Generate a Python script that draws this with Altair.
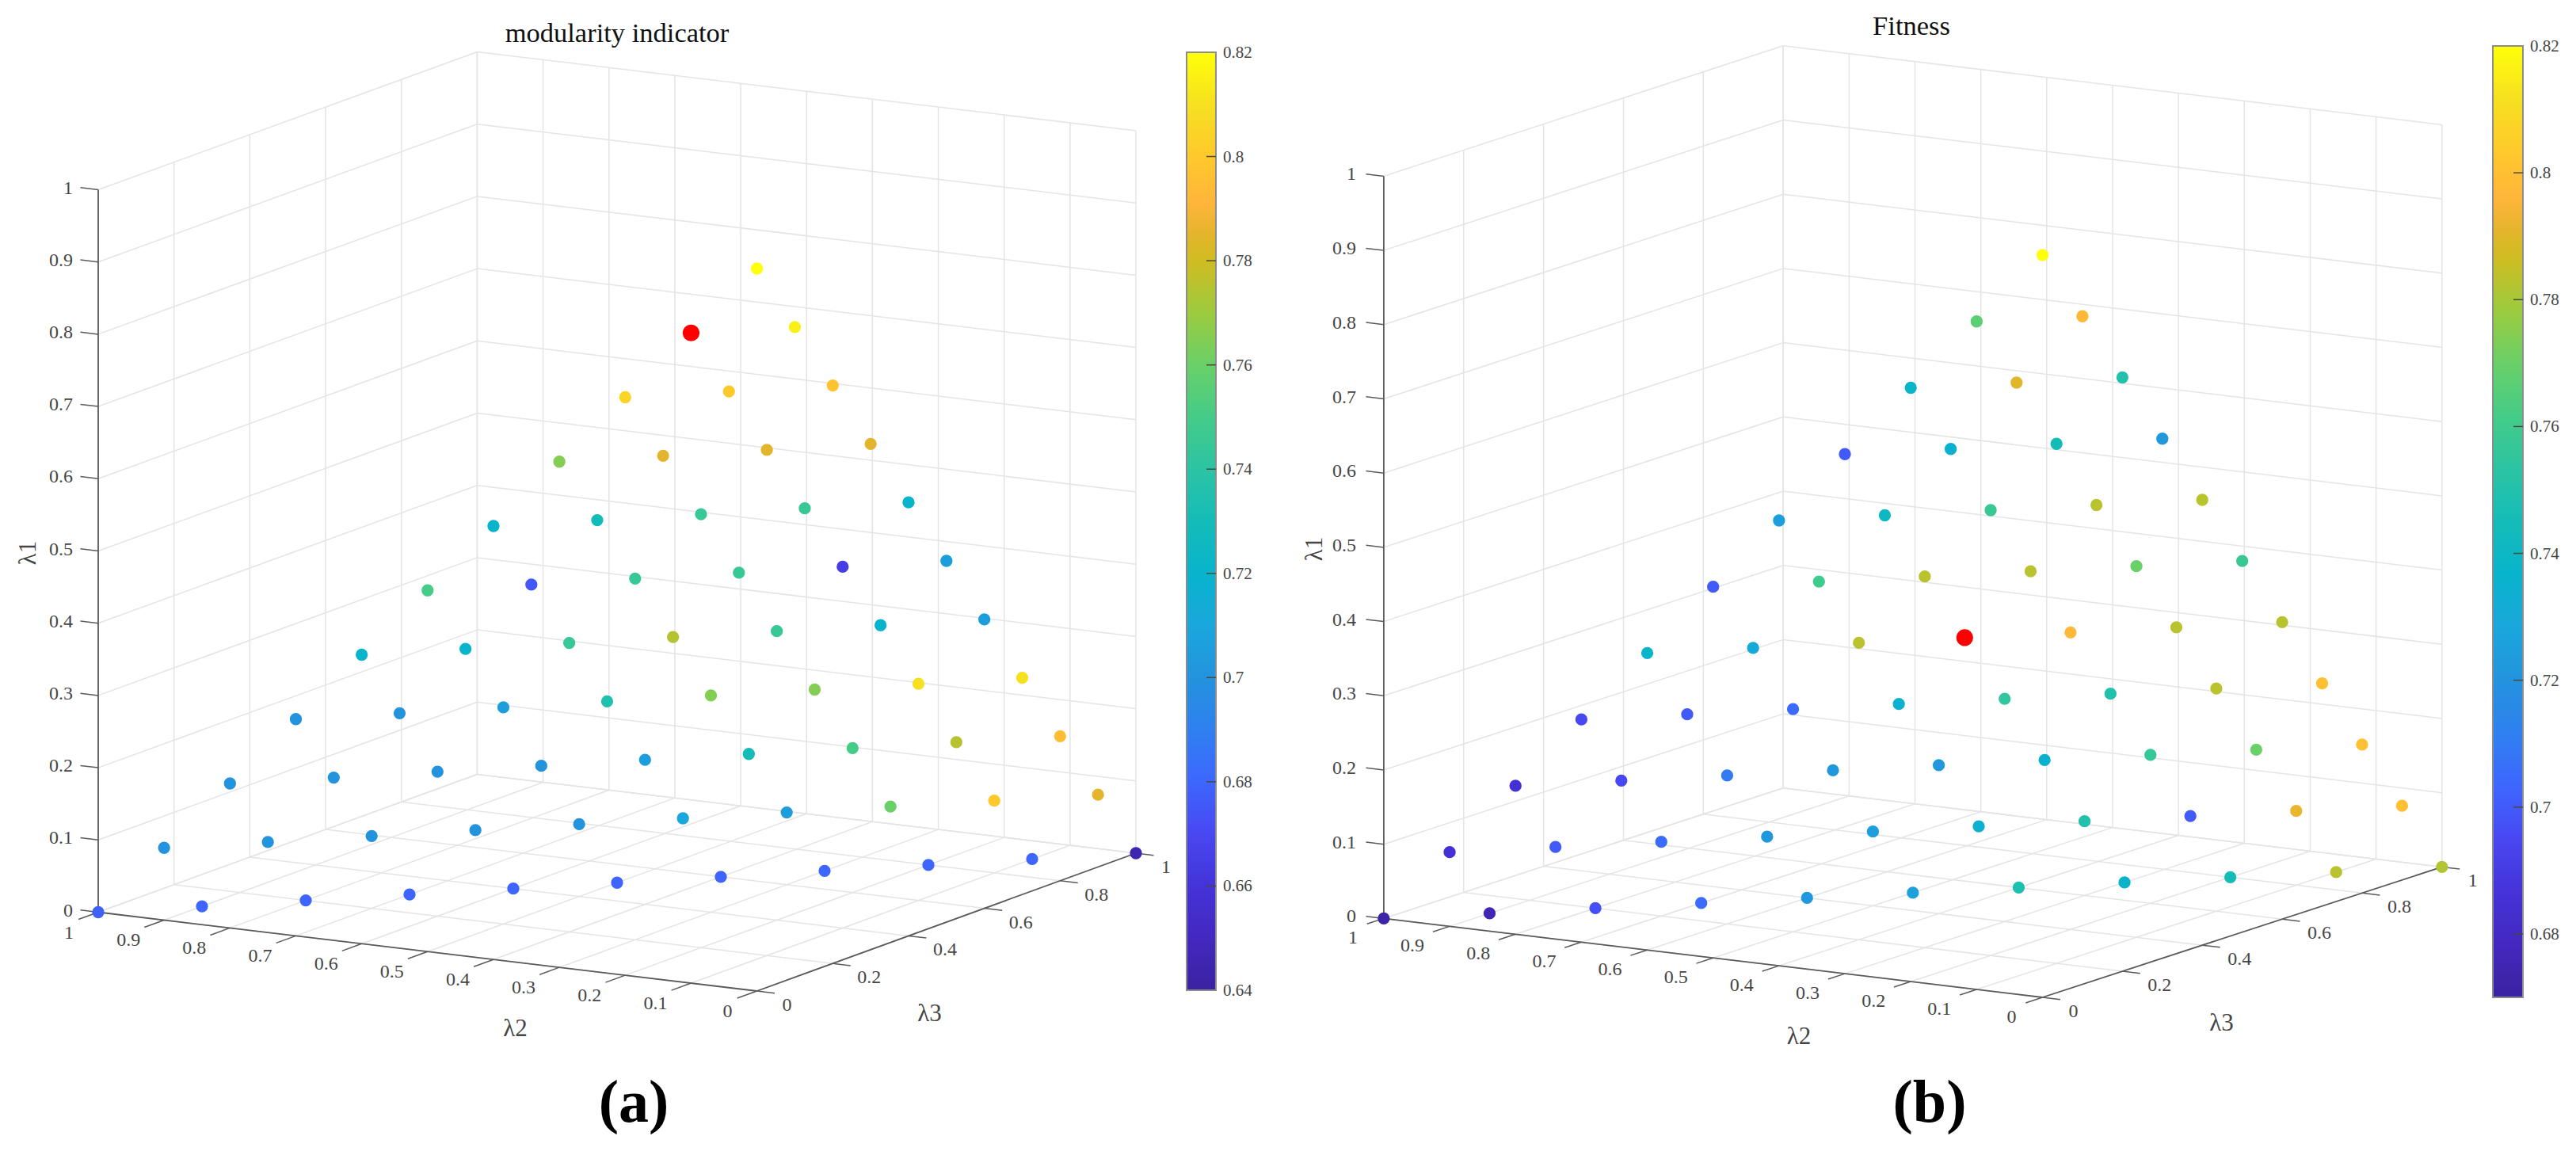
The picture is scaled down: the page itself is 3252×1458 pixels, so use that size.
import altair as alt
import pandas as pd

# Values, one row per lambda1 level (k = 0..10); inside a row lambda2 falls and lambda3 rises.
MOD_ROWS = [
    [0.678, 0.680, 0.680, 0.680, 0.680, 0.680, 0.680, 0.680, 0.680, 0.680, 0.645],
    [0.700, 0.700, 0.700, 0.700, 0.700, 0.710, 0.705, 0.760, 0.800, 0.785],
    [0.700, 0.700, 0.700, 0.700, 0.705, 0.730, 0.750, 0.775, 0.795],
    [0.700, 0.700, 0.705, 0.735, 0.765, 0.765, 0.810, 0.810],
    [0.720, 0.720, 0.745, 0.775, 0.745, 0.720, 0.705],
    [0.750, 0.675, 0.745, 0.745, 0.665, 0.705],
    [0.720, 0.730, 0.745, 0.745, 0.720],
    [0.765, 0.785, 0.785, 0.785],
    [0.805, 0.800, 0.797],
    [0.000, 0.815],
    [0.820],
]
FIT_ROWS = [
    [0.672, 0.675, 0.697, 0.705, 0.722, 0.726, 0.748, 0.737, 0.745, 0.783, 0.782],
    [0.685, 0.700, 0.705, 0.722, 0.725, 0.735, 0.750, 0.700, 0.792, 0.800],
    [0.685, 0.695, 0.710, 0.722, 0.722, 0.735, 0.757, 0.770, 0.800],
    [0.695, 0.700, 0.705, 0.735, 0.755, 0.750, 0.783, 0.800],
    [0.738, 0.730, 0.783, 0.000, 0.797, 0.783, 0.783],
    [0.700, 0.760, 0.783, 0.783, 0.770, 0.758],
    [0.725, 0.740, 0.758, 0.783, 0.783],
    [0.700, 0.735, 0.745, 0.722],
    [0.738, 0.790, 0.750],
    [0.767, 0.797],
    [0.820],
]
# Best point of each panel, as (k, i, j) = tenths of lambda1, lambda2, lambda3.
MOD_BEST = (9, 1, 0)
FIT_BEST = (4, 3, 3)

L1_TICKS = [0, 0.1, 0.2, 0.3, 0.4, 0.5, 0.6, 0.7, 0.8, 0.9, 1]
L2_TICKS = [0, 0.1, 0.2, 0.3, 0.4, 0.5, 0.6, 0.7, 0.8, 0.9, 1]
L3_TICKS = [0, 0.2, 0.4, 0.6, 0.8, 1]
MOD_CB_TICKS = [0.64, 0.66, 0.68, 0.70, 0.72, 0.74, 0.76, 0.78, 0.80, 0.82]
FIT_CB_TICKS = [0.68, 0.70, 0.72, 0.74, 0.76, 0.78, 0.80, 0.82]

CMAP_T = [0, 0.056, 0.111, 0.167, 0.222, 0.278, 0.333, 0.389, 0.444, 0.5,
          0.556, 0.611, 0.667, 0.722, 0.778, 0.806, 0.84, 0.889, 0.944, 1]
CMAP_C = ["#3a22a0", "#4428c0", "#4433d8", "#4848f2", "#3e66ff", "#2f80f0", "#2393de",
          "#1aa7dc", "#08b4cc", "#14bcb8", "#2cc4a4", "#44cc88", "#6ad068", "#9ccb3e",
          "#d0bc22", "#e4b52c", "#ffb53a", "#ffc92c", "#f6e020", "#ffff0a"]

W, H = 1618, 1442
FONT = "Liberation Serif"
GRID = "#e4e4e4"
AX = "#5a5a5a"
TXT = "#454545"
SX = alt.Scale(domain=[0, W], nice=False, zero=False)
SY = alt.Scale(domain=[H, 0], nice=False, zero=False)


def fmt(v):
    return f"{v:g}"


def panel(cfg):
    ox, oy = cfg["page_x"], 8
    bx, by = cfg["origin"]
    ax2, ay2 = cfg["u2"]
    ax3, ay3 = cfg["u3"]
    uz = cfg["uz"]

    def proj(l1, l2, l3):
        return (bx + ax2 * l2 + ax3 * l3 - ox, by + ay2 * l2 + ay3 * l3 - uz * l1 - oy)

    def seg(a, b):
        x, y = proj(*a)
        x2, y2 = proj(*b)
        return {"x": x, "y": y, "x2": x2, "y2": y2}

    def rules(segs, color, width):
        return alt.Chart(pd.DataFrame(segs)).mark_rule(color=color, strokeWidth=width).encode(
            x=alt.X("x:Q", scale=SX, axis=None), y=alt.Y("y:Q", scale=SY, axis=None),
            x2="x2:Q", y2="y2:Q")

    def texts(rows, size, color=TXT, align="center", angle=0, weight="normal"):
        return alt.Chart(pd.DataFrame(rows)).mark_text(
            font=FONT, fontSize=size, color=color, align=align, baseline="middle",
            angle=angle, fontWeight=weight).encode(
            x=alt.X("x:Q", scale=SX, axis=None), y=alt.Y("y:Q", scale=SY, axis=None),
            text="t:N")

    tenths = [t / 10 for t in range(11)]
    fifths = [t / 5 for t in range(6)]
    grid = []
    for t in tenths:
        grid.append(seg((t, 1, 0), (t, 1, 1)))      # left wall, horizontals
        grid.append(seg((t, 1, 1), (t, 0, 1)))      # back wall, horizontals
        grid.append(seg((0, t, 1), (1, t, 1)))      # back wall, verticals
        grid.append(seg((0, t, 0), (0, t, 1)))      # floor
    for t in fifths:
        grid.append(seg((0, 1, t), (1, 1, t)))      # left wall, verticals
        grid.append(seg((0, 0, t), (0, 1, t)))      # floor

    axes = [seg((0, 1, 0), (1, 1, 0)), seg((0, 1, 0), (0, 0, 0)), seg((0, 0, 0), (0, 0, 1))]

    ticks, lab1, lab2, lab3 = [], [], [], []
    for v in L1_TICKS:
        ticks.append(seg((v, 1, 0), (v, 1.027, 0)))
        x, y = proj(v, 1, 0)
        lab1.append({"x": x + cfg["l1_off"][0], "y": y + cfg["l1_off"][1], "t": fmt(v)})
    for v in L2_TICKS:
        ticks.append(seg((0, v, 0), (0, v, -cfg["tick3"])))
        x, y = proj(0, v, 0)
        dx = cfg["l2_off"][0] + (8 if v in (0, 1) else 0)
        lab2.append({"x": x + dx, "y": y + cfg["l2_off"][1], "t": fmt(v)})
    for v in L3_TICKS:
        ticks.append(seg((0, 0, v), (0, -0.027, v)))
        x, y = proj(0, 0, v)
        dx = cfg["l3_off"][0] - (8 if v in (0, 1) else 0)
        lab3.append({"x": x + dx, "y": y + cfg["l3_off"][1], "t": fmt(v)})

    pts = []
    best = None
    for k, row in enumerate(cfg["rows"]):
        n = 10 - k
        for j, val in enumerate(row):
            i = n - j
            x, y = proj(k / 10, i / 10, j / 10)
            if (k, i, j) == cfg["best"]:
                best = {"x": x, "y": y}
            else:
                pts.append({"x": x, "y": y, "v": val})

    v0, v1 = cfg["cb_dom"]
    color_scale = alt.Scale(domain=[v0 + t * (v1 - v0) for t in CMAP_T], range=CMAP_C,
                            interpolate="rgb")
    dots = alt.Chart(pd.DataFrame(pts)).mark_circle(size=235, opacity=1).encode(
        x=alt.X("x:Q", scale=SX, axis=None), y=alt.Y("y:Q", scale=SY, axis=None),
        color=alt.Color("v:Q", scale=color_scale, legend=None))
    red = alt.Chart(pd.DataFrame([best])).mark_circle(size=450, opacity=1, color="#ff0000").encode(
        x=alt.X("x:Q", scale=SX, axis=None), y=alt.Y("y:Q", scale=SY, axis=None))

    cx0, cx1 = cfg["cb_x"]
    ctop, cbot = cfg["cb_y"]

    def cb_y(v):
        return cbot + (v - v0) / (v1 - v0) * (ctop - cbot) - oy

    gradient = alt.Gradient(
        gradient="linear", x1=0, x2=0, y1=1, y2=0,
        stops=[alt.GradientStop(offset=t, color=c) for t, c in zip(CMAP_T, CMAP_C)])
    bar = alt.Chart(pd.DataFrame([{"x": cx0 - ox, "x2": cx1 - ox, "y": cb_y(v0), "y2": cb_y(v1)}])).mark_rect(
        color=gradient, stroke="#8c8c8c", strokeWidth=2).encode(
        x=alt.X("x:Q", scale=SX, axis=None), y=alt.Y("y:Q", scale=SY, axis=None),
        x2="x2:Q", y2="y2:Q")
    cb_ticks = [{"x": cx1 - ox - 12, "x2": cx1 - ox, "y": cb_y(v), "y2": cb_y(v)} for v in cfg["cb_ticks"][:]
                if v not in (v0, v1)]
    cb_labels = [{"x": cx1 - ox + 9, "y": cb_y(v) + 1, "t": fmt(v)} for v in cfg["cb_ticks"]]

    def page(xy):
        return xy[0] - ox, xy[1] - oy

    def single(t, xy):
        x, y = page(xy)
        return [{"x": x, "y": y, "t": t}]

    return alt.layer(
        rules(grid, GRID, 1.5),
        rules(axes, AX, 1.8),
        rules(ticks, AX, 1.5),
        dots,
        red,
        bar,
        rules(cb_ticks, "#4a4a3a", 1.5),
        texts(lab1, 24, align="right"),
        texts(lab2, 24),
        texts(lab3, 24),
        texts(cb_labels, 21, align="left"),
        texts(single("λ1", cfg["t1"]), 31, angle=270),
        texts(single("λ2", cfg["t2"]), 31),
        texts(single("λ3", cfg["t3"]), 31),
        texts(single(cfg["title"], cfg["title_at"]), 34.5, color="#111111"),
        texts(single(cfg["tag"], cfg["tag_at"]), 76, color="#000000", weight="bold"),
    ).properties(width=W, height=H)


PANEL_A = dict(
    page_x=8, origin=(955.6, 1251), u2=(-831.6, -99.5), u3=(478.4, -174), uz=912,
    rows=MOD_ROWS, best=MOD_BEST, tick3=0.052,
    l1_off=(-32, -2), l2_off=(-45, 26), l3_off=(46, 18),
    cb_dom=(0.64, 0.82), cb_x=(1498, 1535), cb_y=(66, 1250), cb_ticks=MOD_CB_TICKS,
    t1=(36, 698), t2=(650.5, 1299), t3=(1173.5, 1280),
    title="modularity indicator", title_at=(779, 43), tag="(a)", tag_at=(800, 1393),
)
PANEL_B = dict(
    page_x=1626, origin=(2578.5, 1259), u2=(-831.6, -99.6), u3=(504.3, -164.6), uz=937,
    rows=FIT_ROWS, best=FIT_BEST, tick3=0.042,
    l1_off=(-35, -2), l2_off=(-47, 25), l3_off=(47, 18),
    cb_dom=(0.67, 0.82), cb_x=(3147, 3185), cb_y=(58, 1259), cb_ticks=FIT_CB_TICKS,
    t1=(1660, 693), t2=(2271, 1309), t3=(2804.5, 1292),
    title="Fitness", title_at=(2413, 33.5), tag="(b)", tag_at=(2436, 1393),
)

chart = alt.hconcat(panel(PANEL_A), panel(PANEL_B), spacing=0).resolve_scale(
    color="independent"
).properties(
    padding=0, background="white"
).configure_view(stroke=None)

chart.save("out.html", embed_options={"renderer": "svg", "actions": False})
